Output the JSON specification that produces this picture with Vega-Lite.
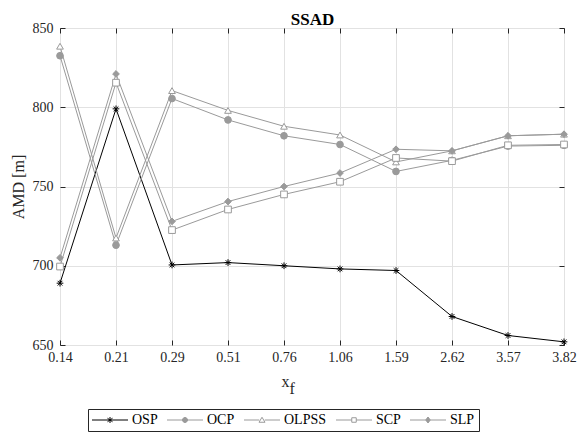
{
  "$schema": "https://vega.github.io/schema/vega-lite/v6.json",
  "width": 504,
  "height": 317,
  "autosize": {"type": "none"},
  "padding": {"left": 60, "top": 28, "right": 13, "bottom": 87},
  "background": "white",
  "data": {
    "values": [
      {"xf": "0.14", "series": "OSP", "amd": 689},
      {"xf": "0.21", "series": "OSP", "amd": 799},
      {"xf": "0.29", "series": "OSP", "amd": 700.5},
      {"xf": "0.51", "series": "OSP", "amd": 702},
      {"xf": "0.76", "series": "OSP", "amd": 700},
      {"xf": "1.06", "series": "OSP", "amd": 698},
      {"xf": "1.59", "series": "OSP", "amd": 697},
      {"xf": "2.62", "series": "OSP", "amd": 668},
      {"xf": "3.57", "series": "OSP", "amd": 656},
      {"xf": "3.82", "series": "OSP", "amd": 652},
      {"xf": "0.14", "series": "OCP", "amd": 832.5},
      {"xf": "0.21", "series": "OCP", "amd": 713},
      {"xf": "0.29", "series": "OCP", "amd": 805.5},
      {"xf": "0.51", "series": "OCP", "amd": 792},
      {"xf": "0.76", "series": "OCP", "amd": 782},
      {"xf": "1.06", "series": "OCP", "amd": 776.5},
      {"xf": "1.59", "series": "OCP", "amd": 759.5},
      {"xf": "2.62", "series": "OCP", "amd": 766.5},
      {"xf": "3.57", "series": "OCP", "amd": 775.5},
      {"xf": "3.82", "series": "OCP", "amd": 776},
      {"xf": "0.14", "series": "OLPSS", "amd": 838.5},
      {"xf": "0.21", "series": "OLPSS", "amd": 717.5},
      {"xf": "0.29", "series": "OLPSS", "amd": 810.5},
      {"xf": "0.51", "series": "OLPSS", "amd": 798},
      {"xf": "0.76", "series": "OLPSS", "amd": 788},
      {"xf": "1.06", "series": "OLPSS", "amd": 782.5},
      {"xf": "1.59", "series": "OLPSS", "amd": 765.5},
      {"xf": "2.62", "series": "OLPSS", "amd": 772.5},
      {"xf": "3.57", "series": "OLPSS", "amd": 782},
      {"xf": "3.82", "series": "OLPSS", "amd": 783},
      {"xf": "0.14", "series": "SCP", "amd": 699.5},
      {"xf": "0.21", "series": "SCP", "amd": 815.5},
      {"xf": "0.29", "series": "SCP", "amd": 722.5},
      {"xf": "0.51", "series": "SCP", "amd": 735.5},
      {"xf": "0.76", "series": "SCP", "amd": 745},
      {"xf": "1.06", "series": "SCP", "amd": 753},
      {"xf": "1.59", "series": "SCP", "amd": 768},
      {"xf": "2.62", "series": "SCP", "amd": 766},
      {"xf": "3.57", "series": "SCP", "amd": 776},
      {"xf": "3.82", "series": "SCP", "amd": 776.5},
      {"xf": "0.14", "series": "SLP", "amd": 705},
      {"xf": "0.21", "series": "SLP", "amd": 821},
      {"xf": "0.29", "series": "SLP", "amd": 728},
      {"xf": "0.51", "series": "SLP", "amd": 740.5},
      {"xf": "0.76", "series": "SLP", "amd": 750},
      {"xf": "1.06", "series": "SLP", "amd": 758.5},
      {"xf": "1.59", "series": "SLP", "amd": 773.5},
      {"xf": "2.62", "series": "SLP", "amd": 772.5},
      {"xf": "3.57", "series": "SLP", "amd": 782},
      {"xf": "3.82", "series": "SLP", "amd": 783}
    ]
  },
  "layer": [
    {
      "mark": {"type": "line", "strokeWidth": 1},
      "encoding": {
        "x": {
          "field": "xf",
          "type": "ordinal",
          "sort": ["0.14", "0.21", "0.29", "0.51", "0.76", "1.06", "1.59", "2.62", "3.57", "3.82"],
          "scale": {"type": "point", "padding": 0},
          "axis": {
            "orient": "bottom",
            "grid": true,
            "gridColor": "#e2e2e2",
            "gridWidth": 1,
            "domain": false,
            "ticks": true,
            "tickSize": -5,
            "tickColor": "#262626",
            "labelAngle": 0,
            "labelFont": "Liberation Serif",
            "labelFontSize": 14,
            "labelColor": "#262626",
            "labelPadding": 10,
            "title": ["x", "\u200b\u00a0\u00a0f"],
            "titleFont": "Liberation Serif",
            "titleFontSize": 16,
            "titleFontWeight": "normal",
            "titleColor": "#262626",
            "titleX": 221,
            "titleY": 41,
            "titleAlign": "left",
            "titleBaseline": "alphabetic",
            "titleLineHeight": 7
          }
        },
        "y": {
          "field": "amd",
          "type": "quantitative",
          "scale": {"domain": [650, 850], "nice": false, "zero": false},
          "axis": {
            "orient": "left",
            "values": [650, 700, 750, 800, 850],
            "grid": true,
            "gridColor": "#e2e2e2",
            "gridWidth": 1,
            "domain": false,
            "ticks": true,
            "tickSize": -5,
            "tickColor": "#262626",
            "labelFont": "Liberation Serif",
            "labelFontSize": 14,
            "labelColor": "#262626",
            "labelPadding": 12,
            "title": "AMD [m]",
            "titleFont": "Liberation Serif",
            "titleFontSize": 16,
            "titleFontWeight": "normal",
            "titleColor": "#262626",
            "titlePadding": 6
          }
        },
        "color": {
          "field": "series",
          "type": "nominal",
          "scale": {
            "domain": ["OSP", "OCP", "OLPSS", "SCP", "SLP"],
            "range": ["#000000", "#9a9a9a", "#9a9a9a", "#9a9a9a", "#9a9a9a"]
          },
          "legend": {
            "title": null,
            "orient": "none",
            "legendX": 28,
            "legendY": 381,
            "direction": "horizontal",
            "symbolSize": 100,
            "symbolOffset": 11,
            "labelOffset": 15,
            "columnPadding": 7,
            "padding": 4,
            "strokeColor": "#262626",
            "fillColor": "#ffffff",
            "labelFont": "Liberation Serif",
            "labelFontSize": 14,
            "labelColor": "#000000",
            "symbolStrokeWidth": 1,
            "encode": {
              "symbols": {
                "update": {
                  "shape": {"signal": "datum.value === 'OSP' ? 'M-3.6,0H3.6M0,-0.6V0.6M-0.5,-0.35L0.5,0.35M-0.5,0.35L0.5,-0.35' : datum.value === 'OCP' ? 'M-3.6,0H3.6M0.5,0A0.5,0.5 0 1,1 -0.5,0A0.5,0.5 0 1,1 0.5,0Z' : datum.value === 'OLPSS' ? 'M-3.6,0H-0.55M0.55,0H3.6M0,-0.55L0.6,0.45L-0.6,0.45Z' : datum.value === 'SCP' ? 'M-3.6,0H-0.45M0.45,0H3.6M-0.45,-0.45H0.45V0.45H-0.45Z' : 'M-3.6,0H3.6M0,-0.6L0.45,0L0,0.6L-0.45,0Z'"},
                  "fill": {"signal": "datum.value === 'OSP' ? '#000000' : (datum.value === 'OCP' || datum.value === 'SLP') ? '#9a9a9a' : '#ffffff'"},
                  "strokeWidth": {"value": 1},
                  "opacity": {"value": 1}
                }
              }
            }
          }
        }
      }
    },
    {
      "mark": {"type": "point", "size": 45, "strokeWidth": 1, "opacity": 1},
      "encoding": {
        "x": {
          "field": "xf",
          "type": "ordinal",
          "sort": ["0.14", "0.21", "0.29", "0.51", "0.76", "1.06", "1.59", "2.62", "3.57", "3.82"],
          "scale": {"type": "point", "padding": 0},
          "axis": {
            "orient": "top",
            "grid": false,
            "domain": false,
            "labels": false,
            "ticks": true,
            "tickSize": -5,
            "tickColor": "#262626",
            "title": "SSAD",
            "titleFont": "Liberation Serif",
            "titleFontSize": 17,
            "titleFontWeight": "bold",
            "titleColor": "#000000",
            "titleX": 252,
            "titleY": -4,
            "titleAlign": "center",
            "titleBaseline": "alphabetic"
          }
        },
        "y": {
          "field": "amd",
          "type": "quantitative",
          "scale": {"domain": [650, 850], "nice": false, "zero": false},
          "axis": {
            "orient": "right",
            "values": [650, 700, 750, 800, 850],
            "grid": false,
            "domain": false,
            "labels": false,
            "ticks": true,
            "tickSize": -5,
            "tickColor": "#262626",
            "title": null
          }
        },
        "shape": {
          "field": "series",
          "type": "nominal",
          "scale": {
            "range": ["circle", "triangle-up", "M0,-1V1M-1,0H1M-0.7,-0.7L0.7,0.7M-0.7,0.7L0.7,-0.7", "square", "diamond"]
          },
          "legend": null
        },
        "fill": {
          "field": "series",
          "type": "nominal",
          "scale": {
            "range": ["#9a9a9a", "#ffffff", "#000000", "#ffffff", "#9a9a9a"]
          },
          "legend": null
        },
        "stroke": {
          "field": "series",
          "type": "nominal",
          "scale": {
            "range": ["#9a9a9a", "#9a9a9a", "#000000", "#9a9a9a", "#9a9a9a"]
          },
          "legend": null
        }
      }
    }
  ],
  "resolve": {"axis": {"x": "independent", "y": "independent"}},
  "config": {
    "view": {"stroke": "#262626", "strokeWidth": 1},
    "font": "Liberation Serif"
  }
}
